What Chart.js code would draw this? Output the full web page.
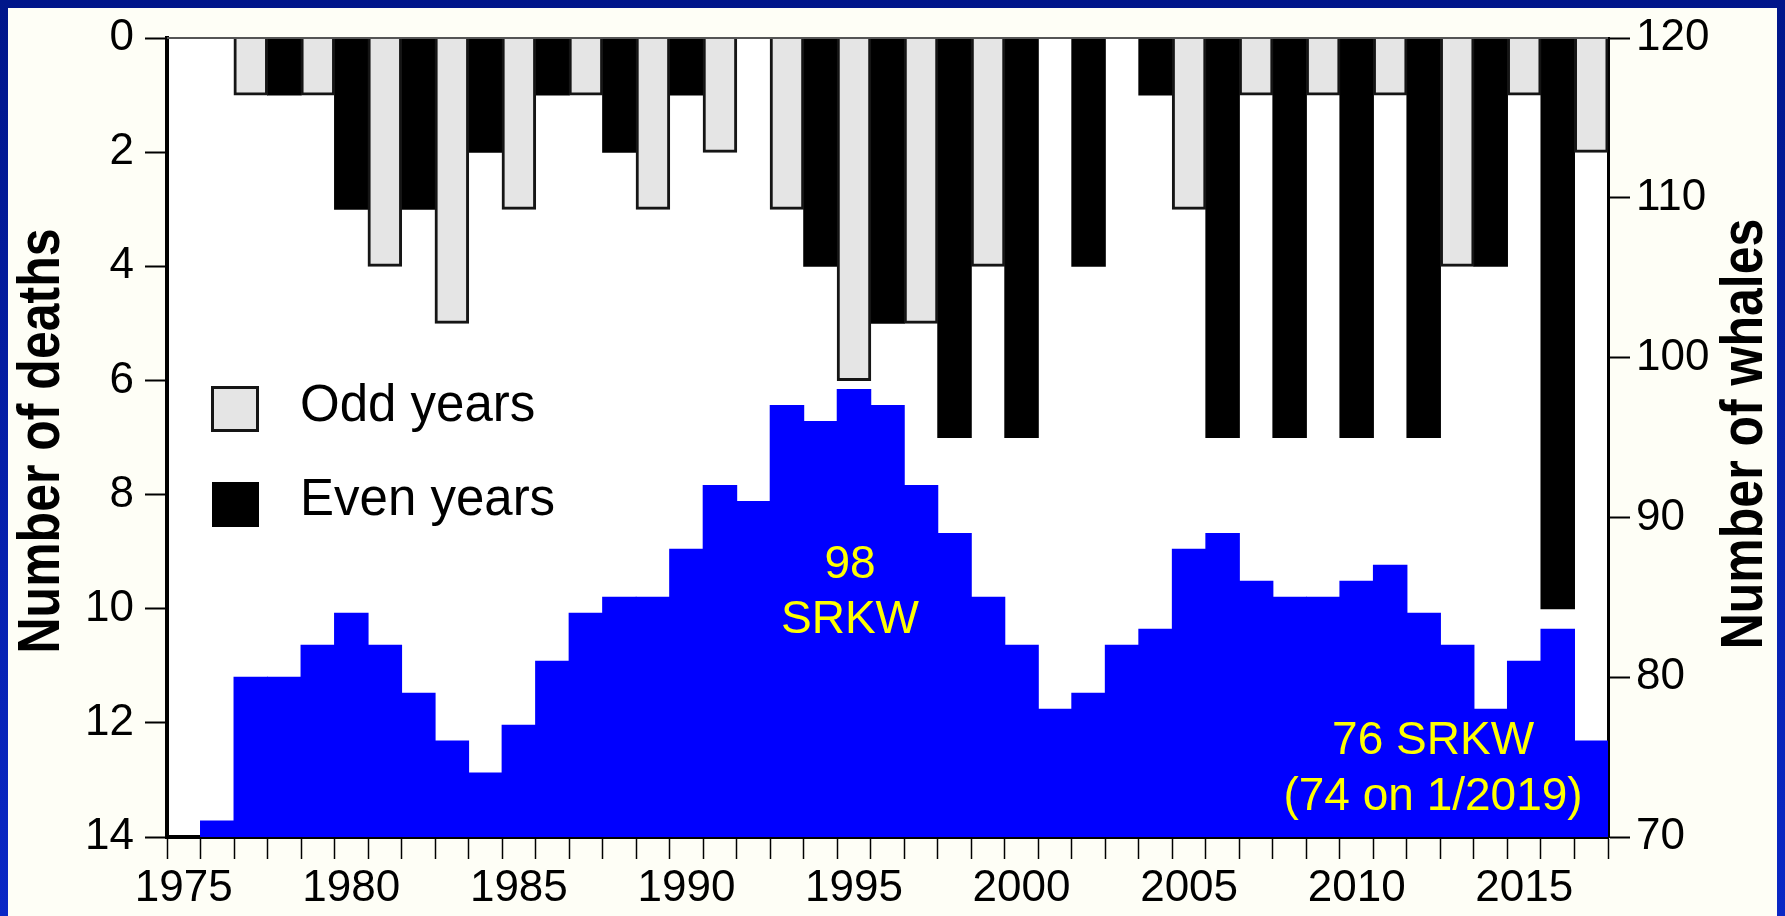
<!DOCTYPE html>
<html>
<head>
<meta charset="utf-8">
<title>Southern Resident killer whales: deaths and population</title>
<script src="https://cdn.jsdelivr.net/npm/chart.js@4.4.1/dist/chart.umd.min.js"></script>
<style>
  html, body { margin: 0; padding: 0; background: #fefef6; overflow: hidden; }
  #wrap { position: relative; width: 1785px; height: 916px; }
</style>
</head>
<body>
<div id="wrap"><canvas id="chart"></canvas></div>
<script>
// Census years
const years = [1975, 1976, 1977, 1978, 1979, 1980, 1981, 1982, 1983, 1984,
               1985, 1986, 1987, 1988, 1989, 1990, 1991, 1992, 1993, 1994,
               1995, 1996, 1997, 1998, 1999, 2000, 2001, 2002, 2003, 2004,
               2005, 2006, 2007, 2008, 2009, 2010, 2011, 2012, 2013, 2014,
               2015, 2016, 2017];

// Deaths recorded each year (left axis, drawn downward from 0)
const deaths = [0, 0, 1, 1, 1, 3, 4, 3, 5, 2,
                3, 1, 1, 2, 3, 1, 2, 0, 3, 4,
                6, 5, 5, 7, 4, 7, 0, 4, 0, 1,
                3, 7, 1, 7, 1, 7, 1, 7, 4, 4,
                1, 10, 2];

// Population count each year (right axis)
const whales = [null, 71, 80, 80, 82, 84, 82, 79, 76, 74,
                77, 81, 84, 85, 85, 88, 92, 91, 97, 96,
                98, 97, 92, 89, 85, 82, 78, 79, 82, 83,
                88, 89, 86, 85, 85, 86, 87, 84, 82, 78,
                81, 83, 76];

// Tick labels
const yearTickLabels = [1975, 1980, 1985, 1990, 1995, 2000, 2005, 2010, 2015];
const deathTicks = [0, 2, 4, 6, 8, 10, 12, 14];
const whaleTicks = [70, 80, 90, 100, 110, 120];

// Split deaths into odd and even years for the two bar series
const oddDeaths = deaths.map((d, i) => (years[i] % 2 === 1 && d > 0) ? d : null);
const evenDeaths = deaths.map((d, i) => (years[i] % 2 === 0 && d > 0) ? d : null);

const FONT = "'Liberation Sans', Arial, Helvetica, sans-serif";
Chart.defaults.font.family = FONT;
Chart.defaults.color = '#000';

// Frame, page and plot backgrounds
const backgroundPlugin = {
  id: 'background',
  beforeDraw(chart) {
    const { ctx, chartArea: a, width, height } = chart;
    ctx.save();
    const g = ctx.createLinearGradient(0, 0, 0, height);
    g.addColorStop(0, '#00168a');
    g.addColorStop(1, '#0a28c6');
    ctx.fillStyle = g;
    ctx.fillRect(0, 0, width, height);
    ctx.fillStyle = '#fefef6';
    ctx.fillRect(8, 8, width - 16, height - 8);
    ctx.fillStyle = '#ffffff';
    ctx.fillRect(a.left, a.top, a.right - a.left, a.bottom - a.top);
    ctx.restore();
  }
};

// Axis titles, legend, top edge and population notes
const overlayPlugin = {
  id: 'overlay',
  afterDraw(chart) {
    const { ctx, chartArea: a, scales } = chart;
    const x = scales.x, y2 = scales.y2;
    ctx.save();

    // top edge of the plot
    ctx.strokeStyle = '#555';
    ctx.lineWidth = 2;
    ctx.beginPath();
    ctx.moveTo(a.left, a.top);
    ctx.lineTo(a.right, a.top);
    ctx.stroke();

    // rotated axis titles
    const drawTitle = (text, bx, cy) => {
      ctx.save();
      ctx.translate(bx, cy);
      ctx.rotate(-Math.PI / 2);
      ctx.scale(1, 1.18);
      ctx.font = `bold 50px ${FONT}`;
      ctx.fillStyle = '#000';
      ctx.textAlign = 'center';
      ctx.textBaseline = 'alphabetic';
      ctx.fillText(text, 0, 0);
      ctx.restore();
    };
    drawTitle('Number of deaths', 59, 441);
    drawTitle('Number of whales', 1762, 434);

    // legend
    const items = [
      { ds: chart.data.datasets[0], box: [211, 386, 48, 46], text: [300, 421] },
      { ds: chart.data.datasets[1], box: [212, 482, 47, 45], text: [300, 515] }
    ];
    items.forEach(it => {
      const [bx, by, bw, bh] = it.box;
      ctx.fillStyle = it.ds.backgroundColor;
      ctx.fillRect(bx, by, bw, bh);
      if (it.ds.borderWidth) {
        ctx.strokeStyle = it.ds.borderColor;
        ctx.lineWidth = 3;
        ctx.strokeRect(bx + 1.5, by + 1.5, bw - 3, bh - 3);
      }
      ctx.fillStyle = '#000';
      ctx.font = `51px ${FONT}`;
      ctx.textAlign = 'left';
      ctx.textBaseline = 'alphabetic';
      ctx.fillText(it.ds.label, it.text[0], it.text[1]);
    });

    // population notes
    ctx.fillStyle = '#ffff00';
    ctx.font = `46px ${FONT}`;
    ctx.textAlign = 'center';
    ctx.textBaseline = 'alphabetic';
    const counts = whales.filter(v => v !== null);
    const peak = Math.max(...counts);
    const peakIdx = whales.indexOf(peak);
    const px = x.getPixelForValue(peakIdx) - 4;
    ctx.fillText(String(peak), px, y2.getPixelForValue(86.2));
    ctx.fillText('SRKW', px, y2.getPixelForValue(82.75));
    const last = whales[whales.length - 1];
    const lx = x.getPixelForValue(37.28);
    ctx.fillText(`${last} SRKW`, lx, y2.getPixelForValue(75.2));
    ctx.fillText('(74 on 1/2019)', lx, y2.getPixelForValue(71.7));

    ctx.restore();
  }
};

new Chart(document.getElementById('chart'), {
  type: 'bar',
  data: {
    labels: years.map(String),
    datasets: [
      {
        label: 'Odd years',
        data: oddDeaths,
        backgroundColor: '#e5e5e5',
        borderColor: '#151515',
        borderWidth: 3,
        borderSkipped: 'start',
        yAxisID: 'y',
        order: 1
      },
      {
        label: 'Even years',
        data: evenDeaths,
        backgroundColor: '#000000',
        borderWidth: 0,
        yAxisID: 'y',
        order: 1
      },
      {
        label: 'Number of whales',
        data: whales,
        backgroundColor: '#0000ff',
        borderWidth: 0,
        yAxisID: 'y2',
        order: 3
      }
    ]
  },
  options: {
    responsive: true,
    maintainAspectRatio: false,
    animation: false,
    datasets: {
      bar: { grouped: false, barPercentage: 1, categoryPercentage: 1, inflateAmount: 0.5 }
    },
    layout: { padding: { top: 38, left: 0, right: 0, bottom: 0 } },
    plugins: {
      legend: { display: false },
      tooltip: { enabled: false }
    },
    scales: {
      x: {
        type: 'category',
        offset: true,
        afterFit(scale) { scale.height = 79; },
        grid: {
          offset: true,
          drawOnChartArea: false,
          drawTicks: true,
          tickLength: 22,
          tickWidth: 1.5,
          tickColor: '#000'
        },
        border: { display: true, color: '#000', width: 4 },
        ticks: {
          autoSkip: false,
          maxRotation: 0,
          padding: 3,
          color: '#000',
          font: { size: 44 },
          callback: (v, i) => yearTickLabels.includes(years[i]) ? String(years[i]) : ''
        }
      },
      y: {
        type: 'linear',
        position: 'left',
        reverse: true,
        min: deathTicks[0],
        max: deathTicks[deathTicks.length - 1],
        afterFit(scale) { scale.width = 167; },
        afterBuildTicks(scale) { scale.ticks = deathTicks.map(v => ({ value: v })); },
        grid: {
          drawOnChartArea: false,
          drawTicks: true,
          tickLength: 22,
          tickWidth: 2,
          tickColor: '#000'
        },
        border: { display: true, color: '#000', width: 4 },
        ticks: { padding: 11, color: '#000', font: { size: 44 } }
      },
      y2: {
        type: 'linear',
        position: 'right',
        min: whaleTicks[0],
        max: whaleTicks[whaleTicks.length - 1],
        afterFit(scale) { scale.width = 177; },
        afterBuildTicks(scale) { scale.ticks = whaleTicks.map(v => ({ value: v })); },
        grid: {
          drawOnChartArea: false,
          drawTicks: true,
          tickLength: 22,
          tickWidth: 2,
          tickColor: '#000'
        },
        border: { display: true, color: '#000', width: 3 },
        ticks: { padding: 6, color: '#000', font: { size: 44 } }
      }
    }
  },
  plugins: [backgroundPlugin, overlayPlugin]
});
</script>
</body>
</html>
